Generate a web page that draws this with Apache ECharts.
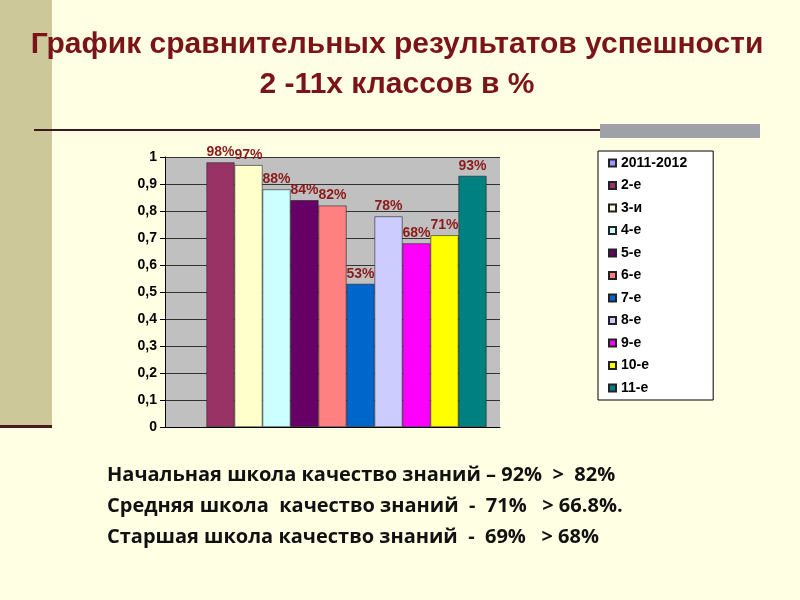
<!DOCTYPE html>
<html>
<head>
<meta charset="utf-8">
<script src="https://cdn.jsdelivr.net/npm/echarts@6/dist/echarts.min.js"></script>
<style>
  html, body { margin: 0; padding: 0; background: #FFFFE3; }
  #chart { width: 800px; height: 600px; }
</style>
</head>
<body>
<div id="chart"></div>
<script>
const seriesNames = ['2011-2012', '2-е', '3-и', '4-е', '5-е', '6-е', '7-е', '8-е', '9-е', '10-е', '11-е']
const seriesValues = [null, 0.98, 0.97, 0.88, 0.84, 0.82, 0.53, 0.78, 0.68, 0.71, 0.93]
const seriesColors = ['#9999FF', '#993366', '#FFFFCC', '#CCFFFF', '#660066', '#FF8080',
  '#0066CC', '#CCCCFF', '#FF00FF', '#FFFF00', '#008080']
const footerLines = [
  'Начальная школа качество знаний – 92%  >  82%',
  'Средняя школа  качество знаний  -  71%   > 66.8%.',
  'Старшая школа качество знаний  -  69%   > 68%'
]

const chart = echarts.init(document.getElementById('chart'))

// один столбец на каждую серию
const series = seriesNames.map((name, i) => ({
  name: name,
  type: 'bar',
  barWidth: 28,
  barGap: '0%',
  data: [seriesValues[i] === null ? '-' : seriesValues[i]],
  itemStyle: { color: seriesColors[i], borderColor: '#222', borderWidth: 0.6 },
  label: {
    show: true,
    position: 'top',
    distance: 3,
    color: '#8B1A1A',
    fontSize: 14,
    fontWeight: 'bold',
    fontFamily: 'Liberation Sans',
    formatter: p => Math.round(p.value * 100) + '%'
  }
}))

const option = {
  backgroundColor: '#FFFFE3',
  animation: false,
  title: {
    text: 'График сравнительных результатов успешности\n2 -11х классов в %',
    left: 392,
    top: 20,
    textAlign: 'center',
    textStyle: { color: '#7A1418', fontSize: 30, fontWeight: 'bold', fontFamily: 'Liberation Sans', lineHeight: 40 }
  },
  legend: {
    orient: 'vertical',
    left: 598,
    top: 151,
    width: 115,
    itemWidth: 7,
    itemHeight: 7,
    itemGap: 8.5,
    padding: [5, 26, 5, 10],
    backgroundColor: '#FFFFFF',
    borderColor: '#000',
    borderWidth: 1,
    icon: 'rect',
    textStyle: { fontSize: 14, fontWeight: 'bold', fontFamily: 'Liberation Sans', color: '#000' },
    data: seriesNames
  },
  grid: { left: 165, right: 300, top: 157, bottom: 173 },
  xAxis: {
    type: 'category',
    data: [''],
    axisTick: { show: false },
    axisLine: { lineStyle: { color: '#000' } }
  },
  yAxis: {
    type: 'value',
    min: 0,
    max: 1,
    interval: 0.1,
    axisLine: { show: true, lineStyle: { color: '#000' } },
    axisTick: { show: true, lineStyle: { color: '#000' } },
    axisLabel: {
      color: '#000', fontSize: 14, fontWeight: 'bold', fontFamily: 'Liberation Sans',
      formatter: v => String(Math.round(v * 10) / 10).replace('.', ',')
    },
    splitLine: { lineStyle: { color: '#333', width: 1 } },
    splitArea: { show: true, areaStyle: { color: ['#C0C0C0', '#C0C0C0'] } }
  },
  graphic: [
    { type: 'rect', left: 0, top: 0, shape: { width: 52, height: 425 }, style: { fill: '#CCC89A' } },
    { type: 'rect', left: 0, top: 425, shape: { width: 52, height: 3 }, style: { fill: '#4A1A20' } },
    { type: 'rect', left: 34, top: 129, shape: { width: 726, height: 2 }, style: { fill: '#3A1A20' } },
    { type: 'rect', left: 600, top: 124, shape: { width: 160, height: 14 }, style: { fill: '#A0A0A8' } },
    ...footerLines.map((t, i) => ({
      type: 'text',
      left: 107,
      top: 465 + i * 31,
      style: { text: t, fill: '#111', fontSize: 20, fontWeight: 'bold', fontFamily: 'Open Sans' }
    }))
  ],
  series: series
}

chart.setOption(option)
</script>
</body>
</html>
